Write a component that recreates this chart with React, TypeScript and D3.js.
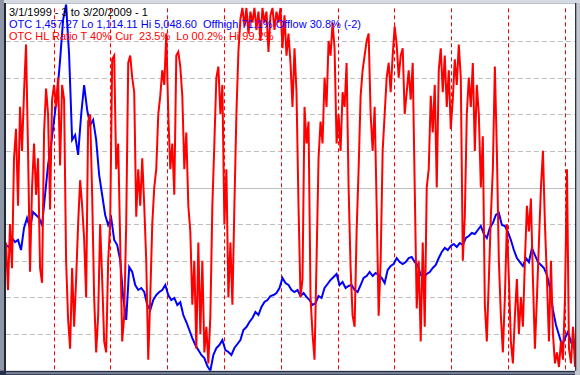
import React from "react";
import * as d3 from "d3";

const W = 580;
const H = 375;
const plot = { left: 6, right: 575, top: 4.3, bottom: 370.7 };

// period shown and yearly markers
const periodStart = "1999-03-01";
const periodEnd = "2009-03-20";
const yearMarks = [
  "2000-01-01", "2001-01-01", "2002-01-01", "2003-01-01", "2004-01-01",
  "2005-01-01", "2006-01-01", "2007-01-01", "2008-01-01", "2009-01-01",
];

// header lines (black, blue, red)
const headerLines = [
  "3/1/1999 - 3 to 3/20/2009 - 1",
  "OTC 1,457.27 Lo 1,114.11 Hi 5,048.60  Offhigh 71.1% Offlow 30.8% (-2)",
  "OTC HL Ratio T 40% Cur  23.5%  Lo 00.2%  Hi 99.2%",
];

// OTC composite, evenly spaced over the period
const otcClose = [
  2464, 2440, 2539, 2496, 2518, 2410, 2647, 2754, 2647, 2818,
  2786, 2754, 2679, 3001, 3323, 3538, 3807, 4075, 4451, 4881,
  5048, 4505, 3592, 3645, 3431, 3860, 4182, 3914, 3753, 3807,
  3592, 3216, 3001, 2786, 2679, 2754, 2518, 2464, 2303, 1900,
  1660, 2228, 2174, 2034, 1981, 2002, 1959, 1820, 1766, 1873,
  1927, 1959, 1981, 2034, 1927, 1873, 1895, 1820, 1850, 1712,
  1637, 1551, 1465, 1390, 1336, 1283, 1250, 1164, 1114, 1283,
  1358, 1390, 1444, 1336, 1315, 1283, 1358, 1401, 1444, 1551,
  1583, 1637, 1680, 1744, 1712, 1798, 1852, 1873, 1916, 1927,
  1948, 2002, 2110, 2056, 2034, 1981, 1959, 1981, 1916, 1948,
  1906, 1873, 1820, 1841, 1916, 1895, 2002, 2045, 2088, 2120,
  2153, 2034, 2067, 2002, 2024, 2034, 1981, 1959, 2034, 2110,
  2131, 2174, 2131, 2163, 2142, 2110, 2056, 2196, 2238, 2260,
  2324, 2281, 2260, 2281, 2324, 2335, 2281, 2249, 2142, 2110,
  2153, 2174, 2217, 2249, 2324, 2389, 2432, 2410, 2453, 2475,
  2443, 2485, 2464, 2539, 2561, 2593, 2582, 2625, 2668, 2582,
  2539, 2647, 2700, 2786, 2808, 2679, 2668, 2604, 2518, 2410,
  2324, 2281, 2238, 2324, 2281, 2432, 2356, 2281, 2249, 2217,
  2142, 2002, 1766, 1605, 1497, 1390, 1465, 1530, 1422, 1358,
  1457.27,
];

// OTC high/low ratio in percent, evenly spaced over the period
const hlRatio = [
  35, 22, 40, 28, 58, 66, 45, 72, 60, 76, 89, 60, 27, 50, 62, 48, 58, 28, 24, 65,
  77, 70, 44, 74, 78, 72, 80, 56, 78, 74,
  30, 14, 6, 28, 12, 25, 40, 52, 45, 36, 20, 68, 70, 48, 20, 5, 15, 40, 25, 8,
  5, 30, 40, 85, 86, 55, 62, 35, 8, 15,
  40, 84, 86, 80, 76, 42, 55, 45, 58, 45, 30, 3, 20, 40, 50, 55, 70, 75, 82, 78,
  92, 70, 55, 62, 48, 86, 87, 83, 75, 55,
  65, 45, 38, 18, 30, 6, 35, 10, 30, 5, 12, 2, 15, 45, 62, 80, 83, 70, 78, 40,
  55, 20, 35, 18, 45, 70, 87, 96, 99, 94,
  99, 92, 98, 95, 99, 93, 98, 90, 99, 95, 98, 87, 97, 99, 93, 98, 95, 99, 88, 97,
  86, 92, 84, 72, 88, 76, 45, 20, 25, 72,
  62, 68, 20, 10, 3, 30, 58, 68, 62, 80, 72, 90, 86, 95, 88, 62, 70, 60, 76, 72,
  84, 50, 28, 15, 12, 38, 55, 75, 82, 86,
  90, 92, 70, 60, 72, 45, 15, 30, 60, 70, 80, 84, 76, 86, 94, 89, 80, 86, 88, 70,
  76, 82, 74, 84, 50, 17, 30, 8, 35, 12,
  50, 55, 75, 65, 78, 50, 82, 88, 76, 86, 72, 82, 66, 74, 85, 78, 89, 80, 30, 42,
  70, 80, 72, 84, 60, 78, 70, 50, 64, 18,
  8, 25, 42, 55, 83, 60, 30, 15, 5, 20, 40, 25, 8, 2, 15, 25, 10, 20, 12, 30,
  45, 38, 47, 25, 6, 20, 35, 50, 60, 40,
  25, 8, 30, 10, 2, 5, 1, 8, 3, 20, 55, 6, 2, 12, 1, 23.5,
];

const parseDay = d3.timeParse("%Y-%m-%d");

export default function App() {
  const t0 = parseDay(periodStart) as Date;
  const t1 = parseDay(periodEnd) as Date;

  const x = d3.scaleTime().domain([t0, t1]).range([plot.left, 577]);
  const yOtc = d3.scaleLinear().domain([1114.11, 5048.6]).range([plot.bottom, plot.top]);
  const yRatio = d3.scaleLinear().domain([0, 100]).range([plot.bottom, plot.top]);

  // spread a series evenly across the period
  const withDates = (vals: number[]) => {
    const idx = d3.scaleLinear().domain([0, vals.length - 1]).range([+t0, +t1]);
    return vals.map((v, i) => ({ date: new Date(idx(i)), v }));
  };

  const otcLine = d3.line<{ date: Date; v: number }>()
    .x(d => x(d.date))
    .y(d => yOtc(d.v));
  const ratioLine = d3.line<{ date: Date; v: number }>()
    .x(d => x(d.date))
    .y(d => yRatio(d.v));

  const gridTicks = yRatio.ticks(10).filter(t => t > 0 && t < 100);
  const textColors = ["#000000", "#0000ff", "#ff0000"];

  return (
    <div>
      <style>{`body{margin:0}`}</style>
      <svg width={W} height={H} style={{ display: "block" }}>
        <defs>
          <clipPath id="plotClip">
            <rect x={plot.left} y={plot.top} width={plot.right - plot.left} height={plot.bottom - plot.top} />
          </clipPath>
        </defs>

        {/* window frame */}
        <rect x={0} y={0} width={W} height={H} fill="#b9bec8" />
        <rect x={0} y={0} width={W} height={3} fill="#d6dae2" />
        <rect x={0} y={0} width={4} height={H} fill="#8f97a6" />
        <rect x={4} y={3} width={2} height={H - 3} fill="#1e2638" />
        <rect x={0} y={plot.bottom} width={W} height={H - plot.bottom} fill="#27304a" />
        <rect x={plot.left} y={plot.bottom + 1.5} width={W} height={2} fill="#7d8596" />
        <rect x={plot.right} y={3} width={W - plot.right} height={H - 3} fill="#c3c7cf" />
        <rect x={plot.right} y={3} width={1.3} height={plot.bottom - 3} fill="#2b3346" />

        <rect
          x={plot.left}
          y={plot.top - 0.3}
          width={plot.right - plot.left}
          height={plot.bottom - plot.top + 0.3}
          fill="#ffffff"
        />

        <g clipPath="url(#plotClip)">
          {gridTicks.map(t => (
            <line
              key={t}
              x1={plot.left}
              x2={plot.right}
              y1={Math.round(yRatio(t)) + 0.5}
              y2={Math.round(yRatio(t)) + 0.5}
              stroke="#c0c0c0"
              strokeWidth={1}
              strokeDasharray={t === 50 ? undefined : "5,3"}
            />
          ))}
          {yearMarks.map(d => {
            const px = Math.round(x(parseDay(d) as Date)) + 0.5;
            return (
              <line
                key={d}
                x1={px}
                x2={px}
                y1={plot.top + 4}
                y2={plot.bottom}
                stroke="#ff0000"
                strokeWidth={1}
                strokeDasharray="4,3"
              />
            );
          })}

          <path d={otcLine(withDates(otcClose)) || ""} fill="none" stroke="#0000ff" strokeWidth={2} />
          <path d={ratioLine(withDates(hlRatio)) || ""} fill="none" stroke="#ff0000" strokeWidth={2} />
        </g>

        <g fontFamily="'Liberation Sans', Arial, sans-serif" fontSize={11}>
          {headerLines.map((s, i) => (
            <text key={i} x={9} y={15.5 + i * 12.3} fill={textColors[i]} style={{ whiteSpace: "pre" }}>
              {s}
            </text>
          ))}
        </g>
      </svg>
    </div>
  );
}
